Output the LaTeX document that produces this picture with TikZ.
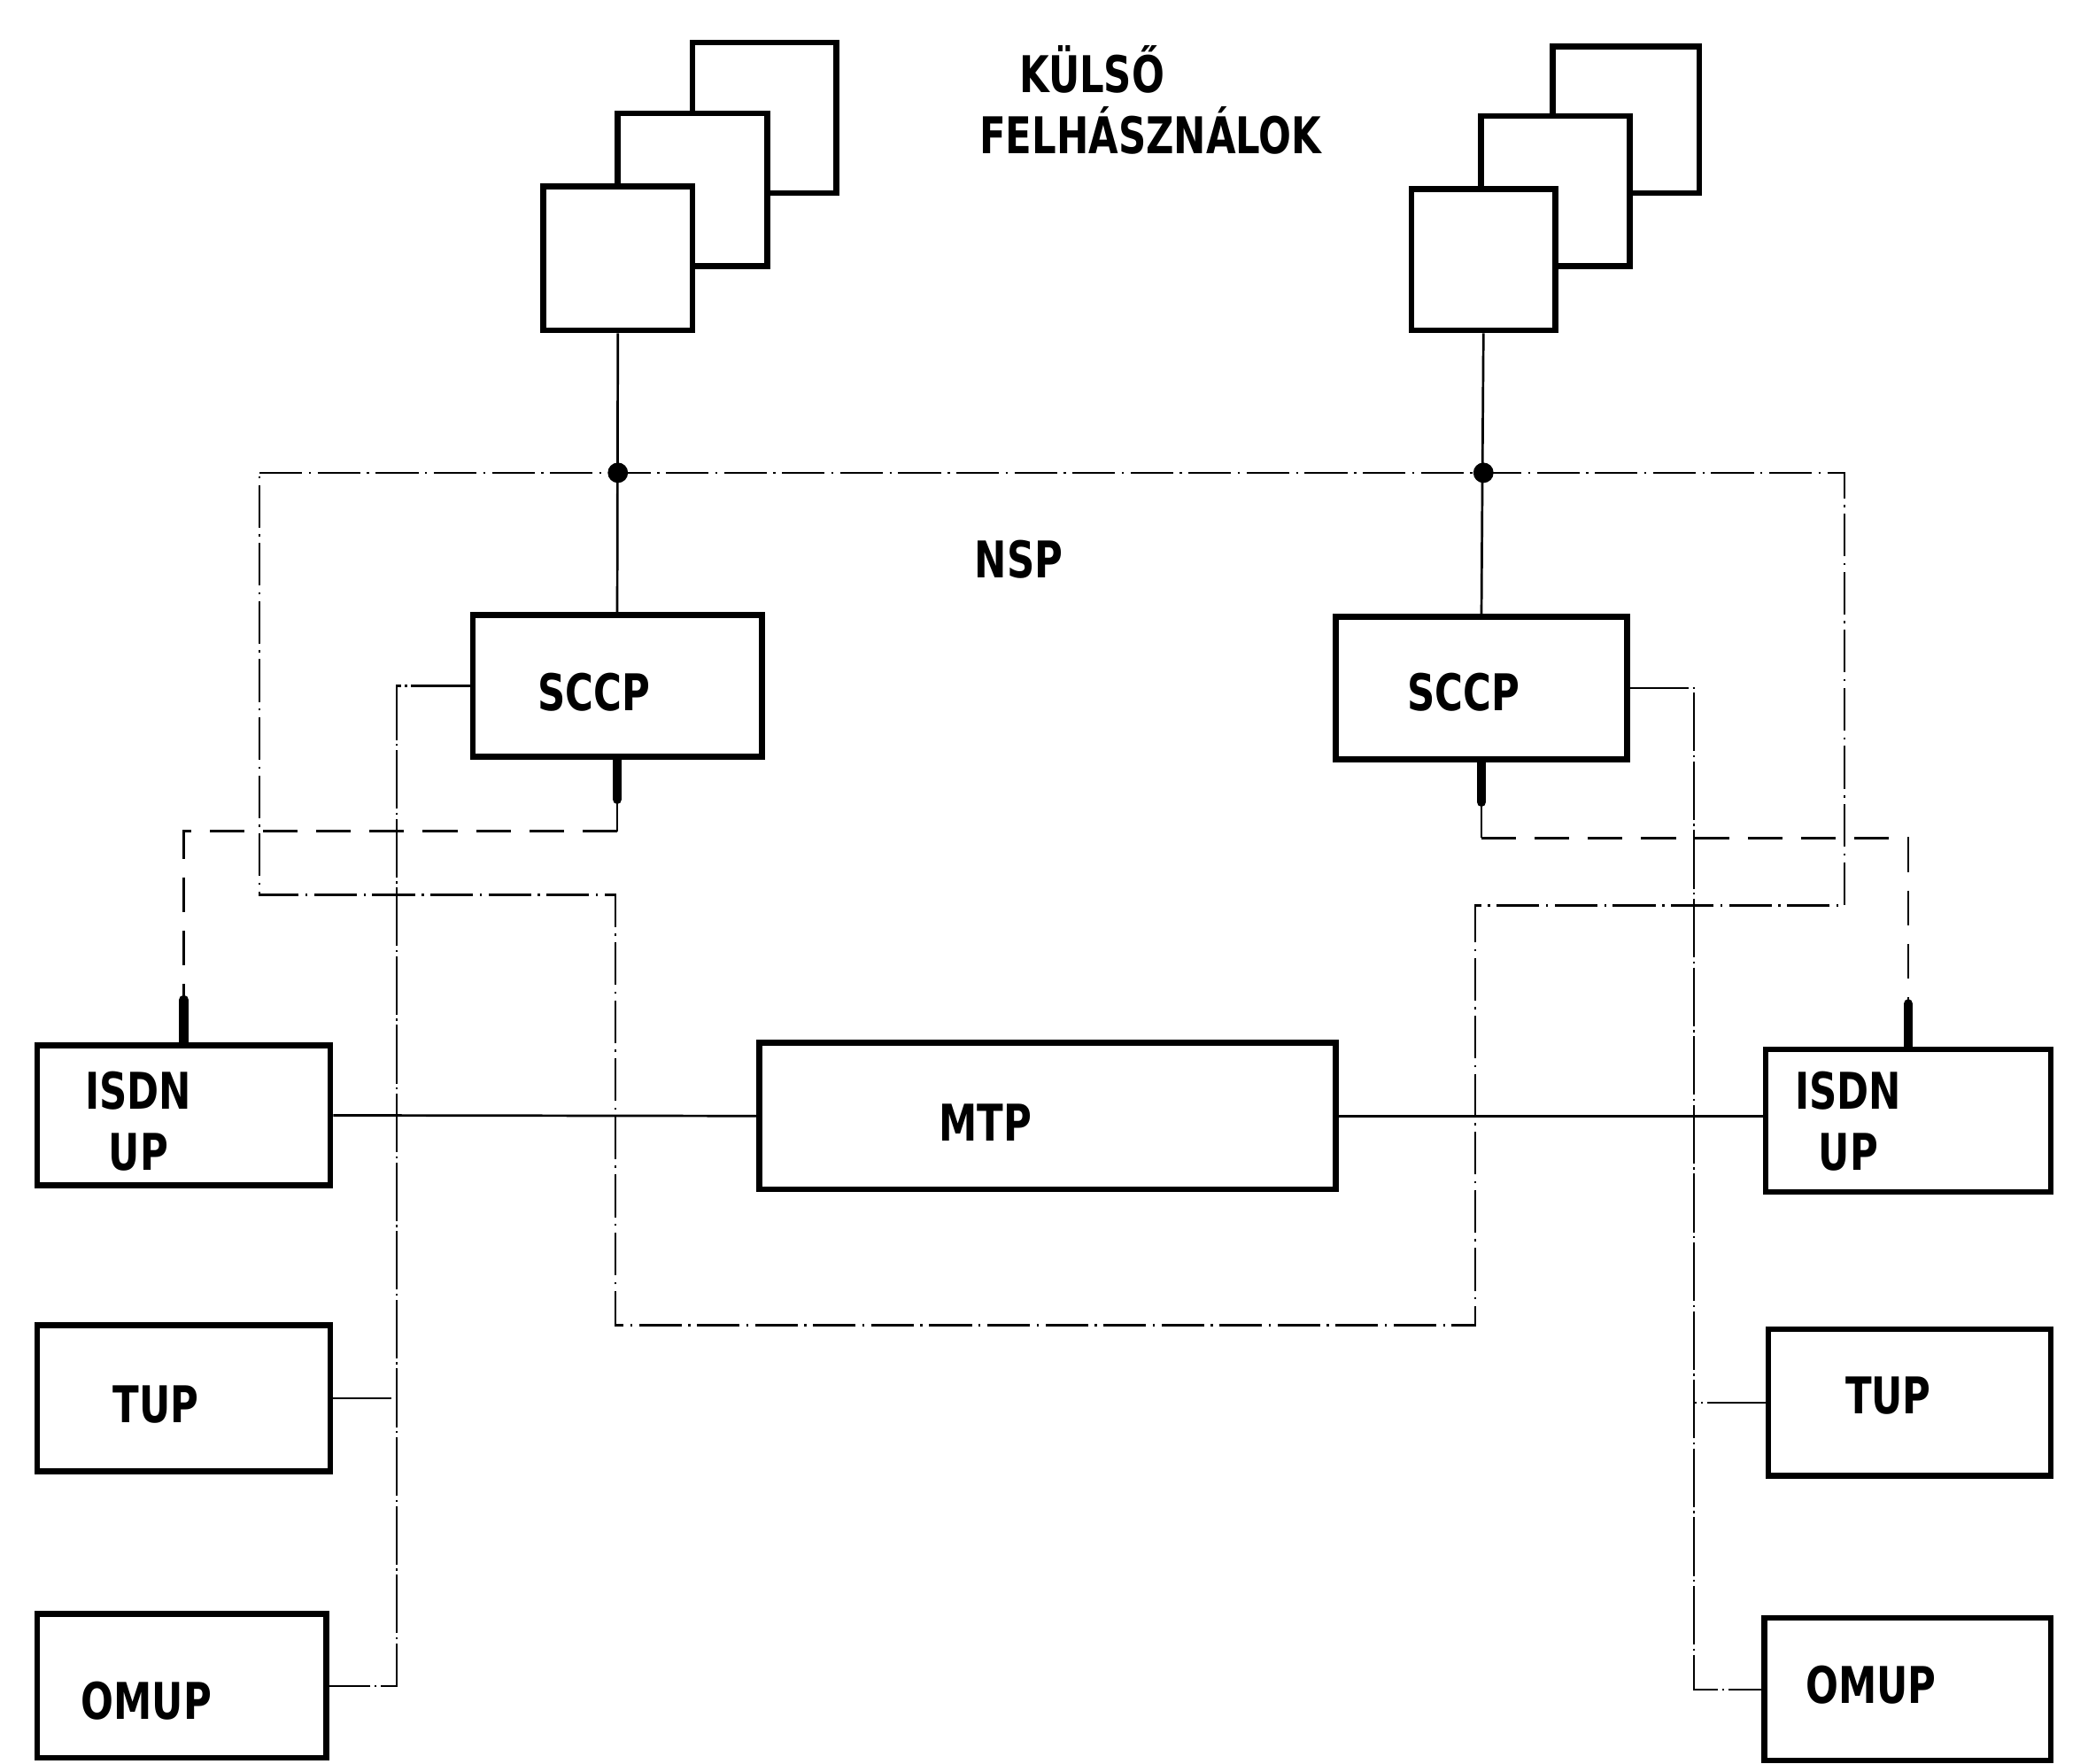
\documentclass[tikz,border=0pt]{standalone}
\usepackage{fontspec}
\newfontfamily\lab{DejaVu Sans}[FakeStretch=0.76]
\usetikzlibrary{fit,calc}
\begin{document}
\begin{tikzpicture}[x=0.5pt,y=-0.5pt,
 box/.style={draw,line width=2.2pt,inner sep=0pt,fill=white},
 txt/.style={font=\lab\bfseries\fontsize{19}{23}\selectfont,inner sep=0pt,align=center},
 frameline/.style={line width=0.8pt,dash pattern=on 16pt off 2.5pt on 0.8pt off 2.5pt},
 bus/.style={line width=0.7pt,dash pattern=on 22pt off 1.5pt on 0.8pt off 1.5pt},
 sig/.style={line width=0.9pt,dash pattern=on 13pt off 7pt},
 solidline/.style={line width=0.9pt},
 stub/.style={line width=3.6pt,line cap=round},
]
\useasboundingbox[fill=white] (0,0) rectangle (1568,1324);

% NSP frame
\draw[frameline] (195,355) -- (1385,355) -- (1385,680) -- (1108,680) -- (1108,995)
  -- (462,995) -- (462,672) -- (195,672) -- cycle;

% external users, left stack
\node[box,fit={(520,32)(628,145)}] (lb3) {};
\node[box,fit={(464,85)(576,200)}] (lb2) {};
\node[box,fit={(408,140)(520,248)}] (lb1) {};
% right stack
\node[box,fit={(1166,35)(1276,145)}] (rb3) {};
\node[box,fit={(1112,87)(1224,200)}] (rb2) {};
\node[box,fit={(1060,142)(1168,248)}] (rb1) {};

\node[txt] (kul) at (820,52) {KÜLSŐ};
\node[txt] (felh) at (864,98) {FELHÁSZNÁLOK};
\node[txt] (nsp) at (765,420) {NSP};

% SCCP
\node[box,fit={(355,462)(572,568)}] (sccpL) {};
\node[txt] (tsccpL) at (446,520) {SCCP};
\node[box,fit={(1003,463)(1222,570)}] (sccpR) {};
\node[txt] (tsccpR) at (1099,520) {SCCP};

% MTP
\node[box,fit={(570,783)(1003,893)}] (mtp) {};
\node[txt] (tmtp) at (740,843) {MTP};

% left user parts
\node[box,fit={(28,785)(248,890)}] (isdnL) {};
\node[txt] (tisdnL) at (104,842) {ISDN\\UP};
\node[box,fit={(28,995)(248,1105)}] (tupL) {};
\node[txt] (ttupL) at (117,1055) {TUP};
\node[box,fit={(28,1212)(245,1320)}] (omupL) {};
\node[txt] (tomupL) at (110,1277) {OMUP};

% right user parts
\node[box,fit={(1326,788)(1540,895)}] (isdnR) {};
\node[txt] (tisdnR) at (1388,842) {ISDN\\UP};
\node[box,fit={(1328,998)(1540,1108)}] (tupR) {};
\node[txt] (ttupR) at (1418,1048) {TUP};
\node[box,fit={(1325,1215)(1540,1322)}] (omupR) {};
\node[txt] (tomupR) at (1405,1265) {OMUP};

% users to SCCP
\draw[solidline] (lb1.south) -- (sccpL.north);
\fill (lb1.south |- 0,355) circle (3.8pt);
\draw[solidline] (rb1.south) -- (sccpR.north);
\fill (rb1.south |- 0,355) circle (3.8pt);

% SCCP to ISDN UP
\draw[solidline] (sccpL.south) -- ++(0,54) coordinate (kL);
\draw[sig] (kL) -| (isdnL.north);
\draw[stub] (sccpL.south) -- ++(0,30);
\draw[stub] (isdnL.north) -- ++(0,-32);

\draw[solidline] (sccpR.south) -- ++(0,57) coordinate (kR);
\draw[sig] (kR) -| (isdnR.north);
\draw[stub] (sccpR.south) -- ++(0,30);
\draw[stub] (isdnR.north) -- ++(0,-32);

% SCCP buses to TUP / OMUP
\draw[bus] (sccpL.west) -- ++(-55,0) coordinate (bL) |- (omupL.east);
\draw[bus] (tupL.east) -- (tupL.east -| bL);
\draw[bus] (sccpR.east) -- ++(48,0) coordinate (bR) |- (omupR.west);
\draw[bus] (tupR.west) -- (tupR.west -| bR);

% ISDN UP to MTP
\draw[solidline] (isdnL.east) -- (mtp.west);
\draw[solidline] (mtp.east) -- (mtp.east -| isdnR.west);
\end{tikzpicture}
\end{document}
